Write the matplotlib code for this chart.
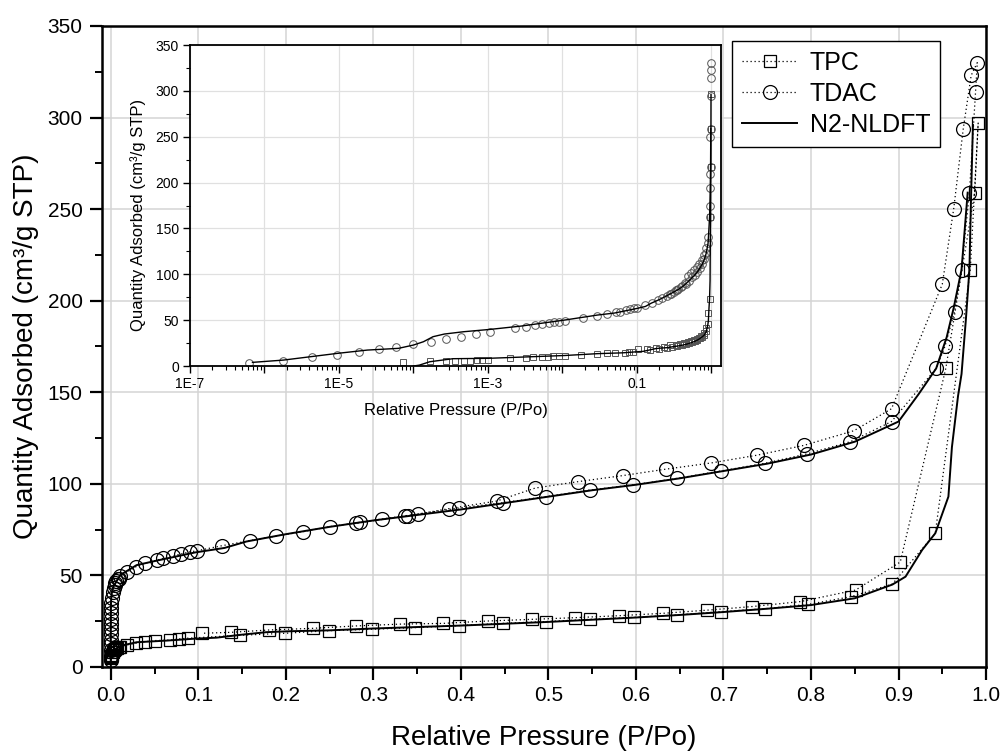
import numpy as np
import matplotlib
matplotlib.use('Agg')
import matplotlib.pyplot as plt
from matplotlib.ticker import MultipleLocator, FixedLocator, LogLocator, NullFormatter

plt.rcParams['font.family'] = ['Liberation Sans', 'DejaVu Sans']

# TDAC isotherm, adsorption then desorption branch
tdac_ads_p = [6.25e-7, 1.75e-6, 4.3e-6, 9.3e-6, 1.85e-5, 3.4e-5, 5.9e-5, 1.0e-4,
              1.7e-4, 2.75e-4, 4.3e-4, 6.9e-4, 1.08e-3, 2.3e-3, 3.2e-3, 4.3e-3,
              5.3e-3, 6.5e-3, 7.8e-3, 9.0e-3, 0.0108, 0.019, 0.029, 0.039, 0.053,
              0.060, 0.071, 0.080, 0.090, 0.099, 0.127, 0.159, 0.189, 0.220, 0.250,
              0.285, 0.310, 0.351, 0.398, 0.448, 0.497, 0.547, 0.597, 0.647, 0.697,
              0.747, 0.795, 0.845, 0.892, 0.943, 0.953, 0.964, 0.972, 0.981, 0.988,
              0.990]
tdac_ads_q = [3.6, 5.8, 9.5, 12.3, 14.9, 18.2, 21.0, 23.6, 26.2, 29.4, 32.0, 34.9,
              37.4, 41.1, 42.9, 44.7, 45.8, 47.2, 48.0, 48.3, 49.6, 52.0, 54.8, 56.6,
              58.4, 59.3, 60.6, 61.7, 62.8, 63.5, 66.2, 69.0, 71.5, 73.9, 76.6, 79.0,
              80.8, 83.5, 86.8, 89.7, 93.0, 96.6, 99.4, 103.0, 107.0, 111.2, 116.3,
              123.0, 134.0, 163.0, 175.0, 194.0, 217.0, 259.0, 314.0, 330.0]
tdac_des_p = [0.983, 0.974, 0.963, 0.950, 0.892, 0.849, 0.792, 0.738, 0.686, 0.634,
              0.585, 0.534, 0.485, 0.441, 0.387, 0.340, 0.336, 0.280]
tdac_des_q = [323, 294, 250, 209, 141, 129, 121, 115.6, 111.4, 108, 104.5, 101.2,
              97.7, 90.6, 86.5, 82.6, 82.4, 78.4]

# TPC isotherm
tpc_ads_p = [7.3e-5, 1.66e-4, 2.76e-4, 3.6e-4, 4.7e-4, 5.8e-4, 7.1e-4, 8.4e-4,
             1.0e-3, 2.0e-3, 3.24e-3, 4.05e-3, 5.25e-3, 6.3e-3, 7.5e-3, 9.1e-3,
             0.0108, 0.018, 0.029, 0.039, 0.050, 0.068, 0.078, 0.088, 0.148, 0.199,
             0.249, 0.299, 0.348, 0.398, 0.448, 0.497, 0.547, 0.598, 0.647, 0.697,
             0.747, 0.797, 0.846, 0.893, 0.942, 0.982, 0.991]
tpc_ads_q = [4.8, 5.5, 5.5, 5.8, 5.8, 6.0, 6.2, 6.2, 6.5, 8.4, 9.1, 9.5, 9.8, 10.1,
             10.5, 10.9, 11.0, 12.0, 13.0, 13.8, 14.4, 14.7, 15.3, 15.7, 17.3, 18.4,
             19.8, 20.6, 21.5, 22.6, 23.8, 24.8, 26.0, 27.1, 28.4, 30.2, 31.8, 34.2,
             38.4, 45.3, 73.0, 217.0, 297.0]
tpc_des_p = [0.987, 0.954, 0.902, 0.851, 0.788, 0.733, 0.681, 0.631, 0.581, 0.530,
             0.481, 0.431, 0.380, 0.331, 0.280, 0.231, 0.181, 0.137, 0.104]
tpc_des_q = [259, 163, 57.3, 42.0, 35.7, 33.0, 31.0, 29.3, 28.0, 26.9, 26.0, 25.1,
             23.8, 23.4, 22.4, 21.1, 20.2, 18.9, 18.4]

# N2-NLDFT fits
tdac_fit_p = [6.9e-7, 1.8e-6, 9.5e-6, 2.4e-5, 6.3e-5, 1.0e-4, 1.36e-4, 1.83e-4,
              2.6e-4, 4.7e-4, 1.08e-3, 2.8e-3, 0.0108, 0.0295, 0.05, 0.096, 0.13,
              0.155, 0.2, 0.25, 0.3, 0.35, 0.4, 0.45, 0.5, 0.55, 0.6, 0.65, 0.7,
              0.75, 0.8, 0.85, 0.9, 0.923, 0.943, 0.955, 0.963, 0.972, 0.979]
tdac_fit_q = [4, 6.5, 13.8, 17.4, 19.3, 22.9, 26.5, 32, 34.9, 37.4, 40, 43.6, 50.2,
              55.6, 57.8, 62.5, 65, 68.5, 72.5, 76.5, 80, 83, 86, 89.5, 93, 96.5,
              99.5, 103, 107, 111, 116, 123, 134, 149, 163, 180, 196, 217, 259]
tpc_fit_p = [1.0e-4, 1.2e-4, 1.66e-4, 3.4e-4, 1.0e-3, 0.0108, 0.0295, 0.064, 0.098,
             0.121, 0.147, 0.178, 0.204, 0.25, 0.3, 0.35, 0.4, 0.45, 0.5, 0.55, 0.6,
             0.65, 0.7, 0.75, 0.8, 0.85, 0.893, 0.908, 0.927, 0.942, 0.957, 0.961,
             0.968, 0.972, 0.977, 0.981, 0.983, 0.985]
tpc_fit_q = [0, 1, 4.7, 8, 8.4, 11.5, 13.5, 14.4, 15.5, 16, 17.5, 19, 19.5, 20, 21,
             21.8, 22.6, 23.6, 24.6, 25.8, 27, 28.4, 30, 31.8, 33.8, 37.5, 45, 49.3,
             63.9, 73, 93, 120, 148, 160, 190, 217, 259, 296]

tpc_p = tpc_ads_p + tpc_des_p
tpc_q = tpc_ads_q + tpc_des_q
tdac_p = tdac_ads_p + tdac_des_p
tdac_q = tdac_ads_q + tdac_des_q

grid_c = '#d4d4d4'

fig = plt.figure(figsize=(10.03, 7.51), dpi=100)

# main plot
ax = fig.add_axes([0.1017, 0.1119, 0.8814, 0.8535])
ax.plot(tpc_p, tpc_q, color='k', ls=(0, (1, 2.2)), lw=0.9, marker='s', ms=9,
        mfc='none', mec='k', mew=0.9, label='TPC')
ax.plot(tdac_p, tdac_q, color='k', ls=(0, (1, 2.2)), lw=0.9, marker='o', ms=10,
        mfc='none', mec='k', mew=0.9, label='TDAC')
ax.plot(tpc_fit_p, tpc_fit_q, color='k', lw=1.4, label='N2-NLDFT')
ax.plot(tdac_fit_p, tdac_fit_q, color='k', lw=1.4)

ax.set_xlim(-0.01, 1.0)
ax.set_ylim(0, 350)
ax.xaxis.set_major_locator(MultipleLocator(0.1))
ax.xaxis.set_minor_locator(MultipleLocator(0.05))
ax.yaxis.set_major_locator(MultipleLocator(50))
ax.yaxis.set_minor_locator(MultipleLocator(25))
ax.xaxis.set_major_formatter(plt.FormatStrFormatter('%.1f'))
ax.grid(True, which='major', color=grid_c, lw=1.1)
ax.set_axisbelow(True)
ax.tick_params(which='major', direction='out', length=9, width=1.6,
               labelsize=15, pad=5)
ax.tick_params(which='minor', direction='out', length=5, width=1.4)
for s in ax.spines.values():
    s.set_linewidth(1.8)
ax.set_xlabel('Relative Pressure (P/Po)', fontsize=20)
ax.set_ylabel('Quantity Adsorbed (cm³/g STP)', fontsize=20)
ax.xaxis.set_label_coords(0.5, -0.09)
ax.yaxis.set_label_coords(-0.071, 0.5)

leg = ax.legend(loc='upper left', bbox_to_anchor=(0.7127, 0.9766),
                borderaxespad=0, fontsize=18, fancybox=False, framealpha=1,
                edgecolor='k', handlelength=2.2, handletextpad=0.5,
                labelspacing=0.28, borderpad=0.4)
leg.get_frame().set_linewidth(1.0)

# inset with log pressure
ins = fig.add_axes([0.1894, 0.5126, 0.5294, 0.4274])
ins.plot(tpc_p, tpc_q, ls='none', marker='s', ms=5, mfc='none', mec='#555555',
         mew=0.7)
ins.plot(tdac_p, tdac_q, ls='none', marker='o', ms=5.5, mfc='none', mec='#555555',
         mew=0.7)
ins.plot(tpc_fit_p, tpc_fit_q, color='k', lw=1.0)
ins.plot(tdac_fit_p, tdac_fit_q, color='k', lw=1.0)
ins.set_xscale('log')
ins.set_xlim(1e-7, 1.34)
ins.set_ylim(0, 350)
decades = [1e-7, 1e-6, 1e-5, 1e-4, 1e-3, 1e-2, 1e-1, 1.0]
ins.xaxis.set_major_locator(FixedLocator(decades))
ins.set_xticklabels(['1E-7', '', '1E-5', '', '1E-3', '', '0.1', ''])
ins.xaxis.set_minor_locator(LogLocator(base=10, subs=np.arange(2, 10), numticks=20))
ins.xaxis.set_minor_formatter(NullFormatter())
ins.yaxis.set_major_locator(MultipleLocator(50))
ins.yaxis.set_minor_locator(MultipleLocator(25))
ins.grid(True, which='major', color='#e0e0e0', lw=0.9)
ins.set_axisbelow(True)
ins.tick_params(which='major', direction='out', length=5, width=1.0,
                labelsize=10, pad=3)
ins.tick_params(which='minor', direction='out', length=3, width=0.8)
for s in ins.spines.values():
    s.set_linewidth(1.3)
ins.set_xlabel('Relative Pressure (P/Po)', fontsize=12)
ins.set_ylabel('Quantity Adsorbed (cm³/g STP)', fontsize=12)
ins.xaxis.set_label_coords(0.5, -0.115)
ins.yaxis.set_label_coords(-0.082, 0.47)

fig.savefig('out.png', dpi=100)
